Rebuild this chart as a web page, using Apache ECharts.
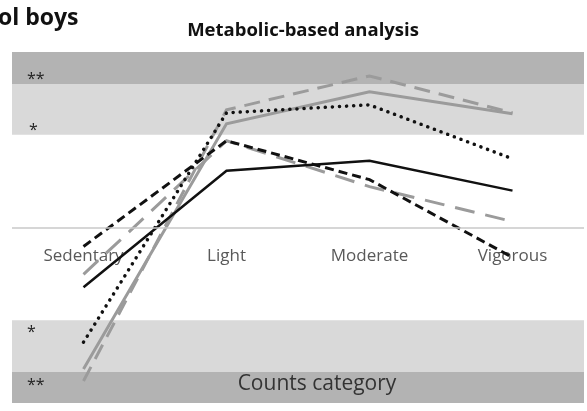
<!DOCTYPE html>
<html>
<head>
<meta charset="utf-8">
<script src="https://cdn.jsdelivr.net/npm/echarts@6/dist/echarts.min.js"></script>
<style>html,body{margin:0;padding:0;background:#fff}#c{width:587px;height:411px}</style>
</head>
<body>
<div id="c"></div>
<script>
const categories = ['Sedentary', 'Light', 'Moderate', 'Vigorous'];
const blackSolid = [-0.60, 0.57, 0.67, 0.37];
const graySolid = [-1.42, 1.04, 1.36, 1.14];
const grayDashUpper = [-1.54, 1.18, 1.52, 1.15];
const blackDotted = [-1.15, 1.15, 1.23, 0.69];
const blackShortDash = [-0.19, 0.87, 0.48, -0.30];
const grayDashLower = [-0.47, 0.87, 0.41, 0.06];
// significance bands
const bandLimits = [[1.44, 1.76], [0.93, 1.44], [-1.45, -0.93], [-1.76, -1.45]];
const bandStars = ['**', '*', '*', '**'];

const dark = '#b3b3b3', light = '#d9d9d9';
const bandColors = [dark, light, light, dark];
const bandPos = ['insideBottomLeft', 'insideBottomLeft', 'insideTopLeft', 'insideTopLeft'];
const bandOffset = [[10, 9], [12, 9], [10, -1], [10, 0]];

const chart = echarts.init(document.getElementById('c'));
const ff = '"Open Sans", sans-serif';
function lineSeries(name, data, color, width, type, z, round) {
  return {
    name, type: 'line', data, symbol: 'none', z,
    lineStyle: { color, width, type, cap: round ? 'round' : 'butt', join: 'miter' }
  };
}
chart.setOption({
  animation: false,
  grid: { left: 12, right: 3, top: 52, bottom: 8, outerBoundsMode: 'none', containLabel: false },
  title: {
    text: 'Metabolic-based analysis', left: 298, top: 16, textAlign: 'center',
    textStyle: { fontFamily: ff, fontWeight: 'bold', fontSize: 18.5, color: '#111' }
  },
  graphic: [
    { type: 'text', x: -2, y: 7, style: { text: 'ol boys', fontFamily: ff, fontWeight: 'bold', fontSize: 23, fill: '#111' } },
    { type: 'text', x: 317, y: 384, z: 100, style: { text: 'Counts category', textAlign: 'center', textVerticalAlign: 'middle', fontFamily: ff, fontSize: 21, fill: '#333' } }
  ],
  xAxis: {
    type: 'category', data: categories, boundaryGap: true, position: 'bottom',
    axisLine: { show: false, onZero: false },
    axisTick: { show: false },
    axisLabel: { margin: -155, fontFamily: ff, fontSize: 17, color: '#595959' },
    z: 1
  },
  yAxis: { type: 'value', min: -1.76, max: 1.76, show: false, splitLine: { show: false } },
  series: [
    {
      type: 'line', data: [null, null, null, null], z: 0, silent: true,
      markArea: {
        silent: true,
        data: bandLimits.map((b, i) => [
          { yAxis: b[0], itemStyle: { color: bandColors[i] },
            label: { show: true, formatter: bandStars[i], position: bandPos[i], offset: bandOffset[i], color: '#222', fontSize: 16, fontFamily: ff } },
          { yAxis: b[1] }
        ])
      },
      markLine: {
        silent: true, symbol: 'none', label: { show: false },
        lineStyle: { color: '#c8c8c8', width: 1.5, type: 'solid' },
        data: [{ yAxis: 0 }]
      }
    },
    lineSeries('graySolid', graySolid, '#9b9b9b', 3, 'solid', 3),
    lineSeries('grayDashUpper', grayDashUpper, '#9b9b9b', 3, [16, 9], 3),
    lineSeries('grayDashLower', grayDashLower, '#9b9b9b', 3, [20, 11], 3),
    lineSeries('blackSolid', blackSolid, '#111', 2.5, 'solid', 4),
    lineSeries('blackDotted', blackDotted, '#111', 3.5, [0.1, 7], 4, true),
    lineSeries('blackShortDash', blackShortDash, '#111', 3, [9, 5], 4)
  ]
});
</script>
</body>
</html>
